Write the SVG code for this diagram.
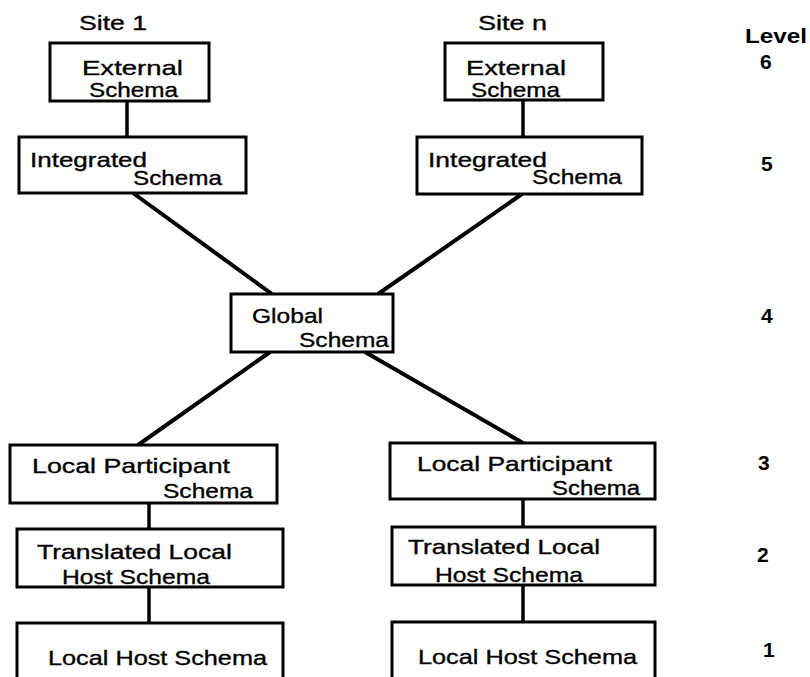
<svg xmlns="http://www.w3.org/2000/svg" width="810" height="677" viewBox="0 0 810 677">
<style>
  .box { fill: #ffffff; stroke: #000000; stroke-width: 3; }
  .t { font-family: "Liberation Sans", Arial, sans-serif; font-size: 21px; fill: #000000; stroke: #000000; stroke-width: 0.35; }
  .lv { font-family: "Liberation Sans", Arial, sans-serif; font-size: 21px; font-weight: bold; fill: #000000; }
  .conn line { stroke: #000000; stroke-width: 3.5; stroke-linecap: butt; }
  .conn .d { stroke-width: 4; }
</style>
<rect x="0" y="0" width="810" height="677" fill="#ffffff"/>
<g id="connectors" class="conn">
  <line x1="127" y1="101" x2="127" y2="137"/>
  <line x1="523" y1="100" x2="523" y2="137"/>
  <line class="d" x1="133" y1="193" x2="272" y2="294"/>
  <line class="d" x1="522" y1="194" x2="378" y2="294"/>
  <line class="d" x1="270" y1="352" x2="138" y2="445"/>
  <line class="d" x1="365" y1="352" x2="523" y2="443"/>
  <line x1="149" y1="503" x2="149" y2="529"/>
  <line x1="149" y1="587" x2="149" y2="623"/>
  <line x1="523" y1="499" x2="523" y2="527"/>
  <line x1="523" y1="585" x2="523" y2="622"/>
</g>
<g id="labels">
  <text class="t" x="79" y="30" textLength="68" lengthAdjust="spacingAndGlyphs">Site 1</text>
  <text class="t" x="478" y="30" textLength="69" lengthAdjust="spacingAndGlyphs">Site n</text>
  <text class="lv" x="745" y="43" textLength="62" lengthAdjust="spacingAndGlyphs">Level</text>
  <text class="lv" x="760" y="69">6</text>
  <text class="lv" x="761" y="171">5</text>
  <text class="lv" x="761" y="323">4</text>
  <text class="lv" x="758" y="470">3</text>
  <text class="lv" x="757" y="562">2</text>
  <text class="lv" x="763" y="657">1</text>
</g>
<g id="external1">
  <rect class="box" x="50" y="43" width="159" height="58"/>
  <text class="t" x="82" y="75" textLength="101" lengthAdjust="spacingAndGlyphs">External</text>
  <text class="t" x="89" y="97" textLength="89" lengthAdjust="spacingAndGlyphs">Schema</text>
</g>
<g id="externalN">
  <rect class="box" x="445" y="43" width="158" height="57"/>
  <text class="t" x="466" y="75" textLength="100" lengthAdjust="spacingAndGlyphs">External</text>
  <text class="t" x="471" y="97" textLength="89" lengthAdjust="spacingAndGlyphs">Schema</text>
</g>
<g id="integrated1">
  <rect class="box" x="19" y="137" width="227" height="56"/>
  <text class="t" x="30" y="167" textLength="117" lengthAdjust="spacingAndGlyphs">Integrated</text>
  <text class="t" x="133" y="185" textLength="89" lengthAdjust="spacingAndGlyphs">Schema</text>
</g>
<g id="integratedN">
  <rect class="box" x="417" y="137" width="225" height="57"/>
  <text class="t" x="428" y="167" textLength="119" lengthAdjust="spacingAndGlyphs">Integrated</text>
  <text class="t" x="532" y="184" textLength="90" lengthAdjust="spacingAndGlyphs">Schema</text>
</g>
<g id="global">
  <rect class="box" x="231" y="294" width="162" height="58"/>
  <text class="t" x="252" y="323" textLength="71" lengthAdjust="spacingAndGlyphs">Global</text>
  <text class="t" x="299" y="347" textLength="90" lengthAdjust="spacingAndGlyphs">Schema</text>
</g>
<g id="participant1">
  <rect class="box" x="10" y="445" width="267" height="58"/>
  <text class="t" x="32" y="473" textLength="198" lengthAdjust="spacingAndGlyphs">Local Participant</text>
  <text class="t" x="163" y="498" textLength="90" lengthAdjust="spacingAndGlyphs">Schema</text>
</g>
<g id="participantN">
  <rect class="box" x="390" y="443" width="265" height="56"/>
  <text class="t" x="417" y="471" textLength="195" lengthAdjust="spacingAndGlyphs">Local Participant</text>
  <text class="t" x="552" y="495" textLength="88" lengthAdjust="spacingAndGlyphs">Schema</text>
</g>
<g id="translated1">
  <rect class="box" x="17" y="529" width="266" height="58"/>
  <text class="t" x="37" y="559" textLength="195" lengthAdjust="spacingAndGlyphs">Translated Local</text>
  <text class="t" x="62" y="584" textLength="148" lengthAdjust="spacingAndGlyphs">Host Schema</text>
</g>
<g id="translatedN">
  <rect class="box" x="392" y="527" width="263" height="58"/>
  <text class="t" x="408" y="554" textLength="192" lengthAdjust="spacingAndGlyphs">Translated Local</text>
  <text class="t" x="435" y="582" textLength="148" lengthAdjust="spacingAndGlyphs">Host Schema</text>
</g>
<g id="localhost1">
  <rect class="box" x="17" y="623" width="266" height="70"/>
  <text class="t" x="48" y="665" textLength="219" lengthAdjust="spacingAndGlyphs">Local Host Schema</text>
</g>
<g id="localhostN">
  <rect class="box" x="392" y="622" width="263" height="70"/>
  <text class="t" x="418" y="664" textLength="219" lengthAdjust="spacingAndGlyphs">Local Host Schema</text>
</g>
</svg>
